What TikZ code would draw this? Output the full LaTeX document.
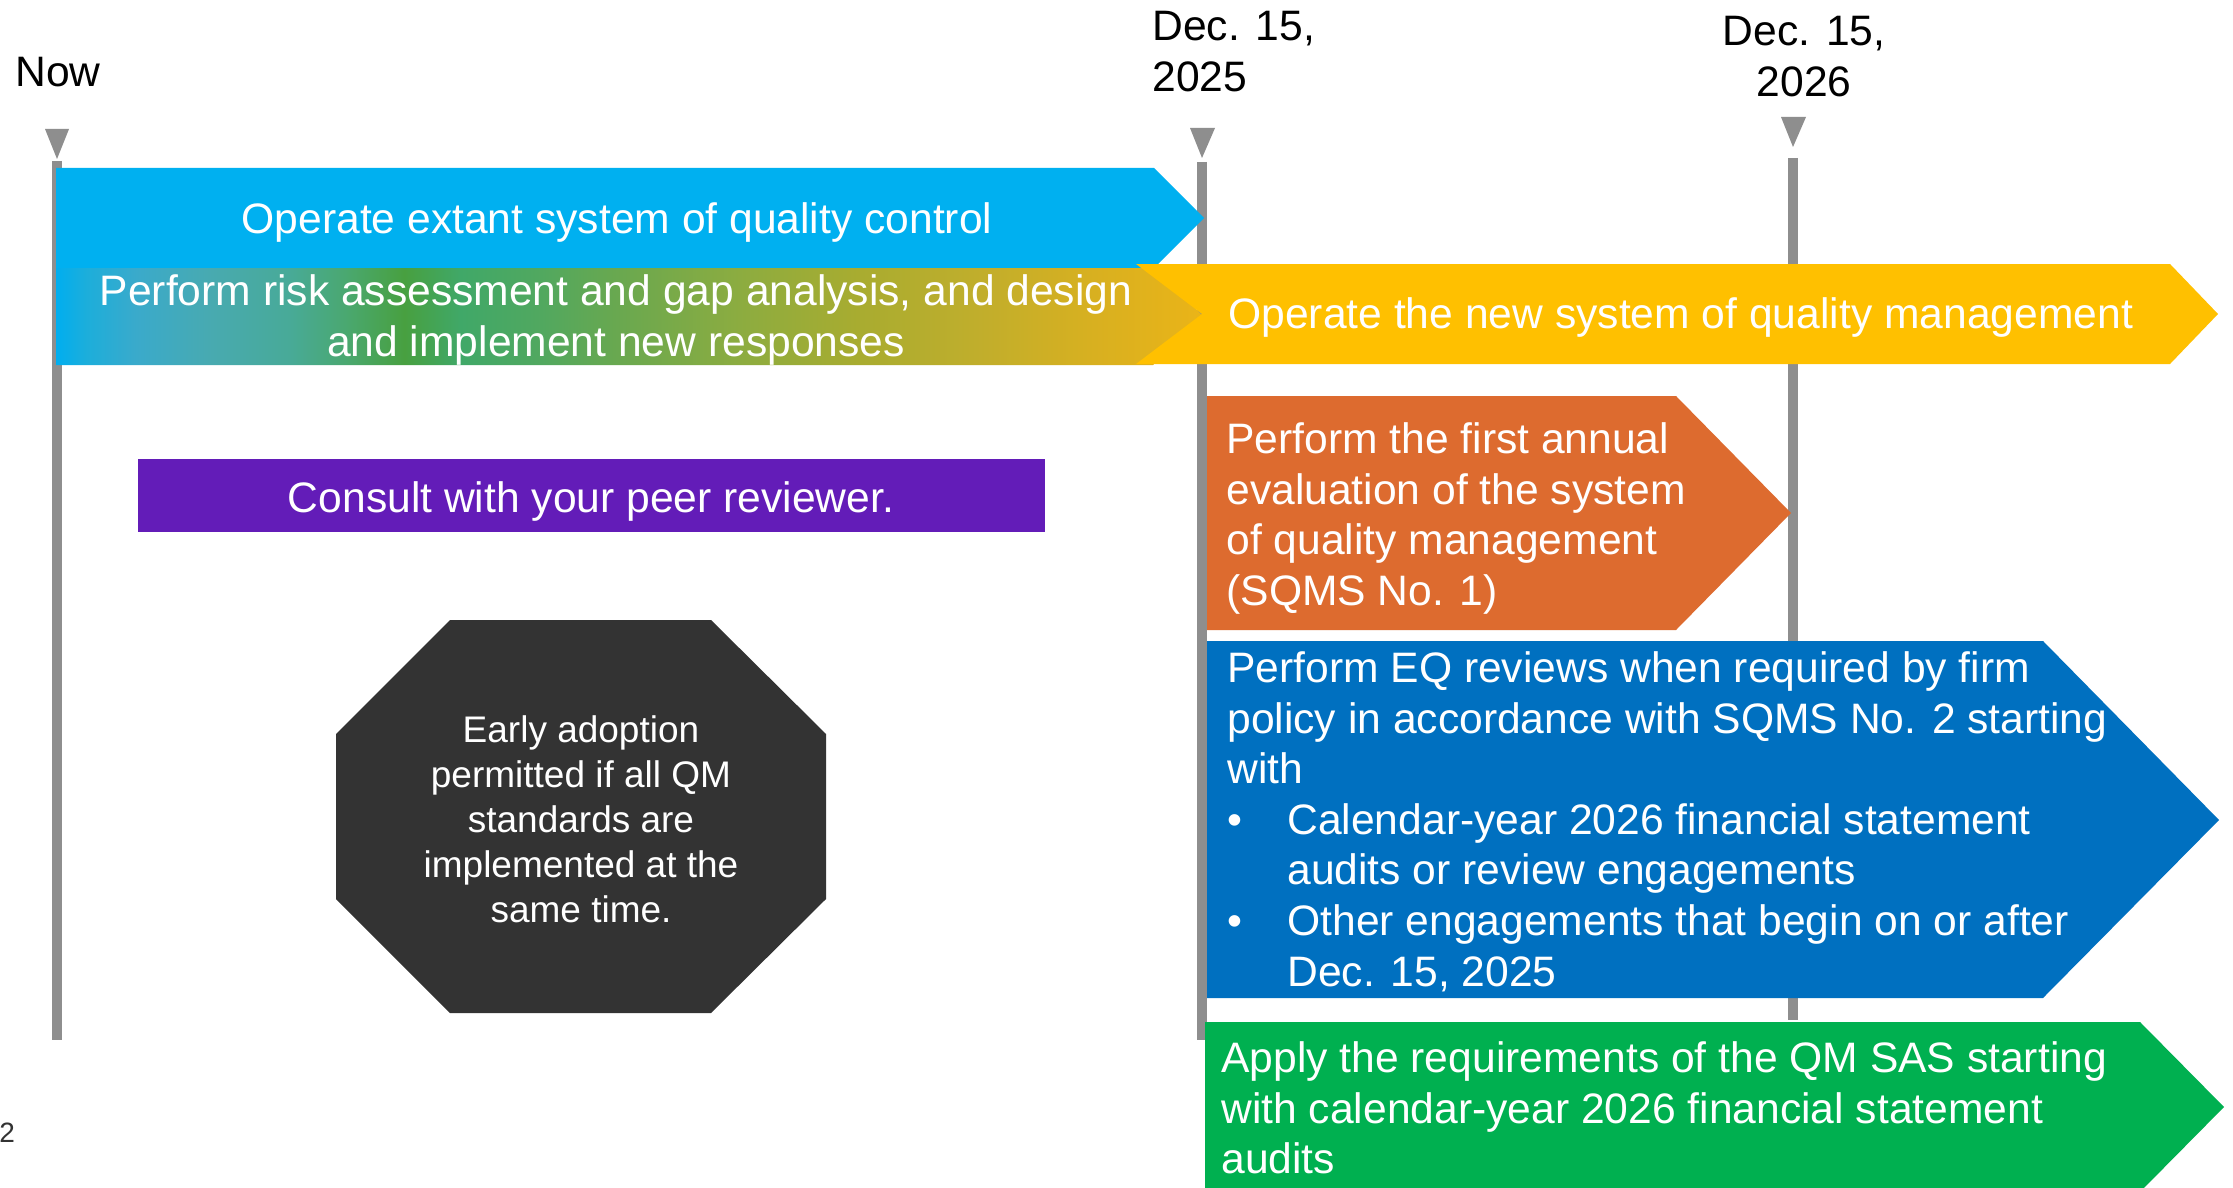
\documentclass[tikz,border=0pt]{standalone}
\usepackage{fontspec}
\setmainfont{Liberation Sans}
\definecolor{lineGray}{HTML}{8E8E8E}
\definecolor{cyanArrow}{HTML}{00B0F0}
\definecolor{yellowArrow}{HTML}{FFC000}
\definecolor{orangeArrow}{HTML}{DD6B2F}
\definecolor{blueArrow}{HTML}{0070C0}
\definecolor{greenArrow}{HTML}{00B050}
\definecolor{purpleBox}{HTML}{631CB8}
\definecolor{octGray}{HTML}{333333}
\definecolor{pageGray}{HTML}{333333}
\definecolor{gA}{HTML}{00AEEF}
\definecolor{gB}{HTML}{1CAEDB}
\definecolor{gC}{HTML}{3AAACB}
\definecolor{gD}{HTML}{48AAB0}
\definecolor{gE}{HTML}{48AA98}
\definecolor{gF}{HTML}{4AA870}
\definecolor{gG}{HTML}{48A040}
\definecolor{gH}{HTML}{40A868}
\definecolor{gI}{HTML}{50A860}
\definecolor{gJ}{HTML}{68A850}
\definecolor{gK}{HTML}{8CAC40}
\definecolor{gL}{HTML}{A8AC30}
\definecolor{gM}{HTML}{C0AE2C}
\definecolor{gN}{HTML}{D8B020}
\definecolor{gO}{HTML}{EAB418}
\pgfdeclarehorizontalshading{riskshade}{100bp}{color(0bp)=(gA); color(25bp)=(gA); color(26.3bp)=(gB); color(28.5bp)=(gC); color(31.8bp)=(gD); color(35.15bp)=(gE); color(37.65bp)=(gF); color(40.2bp)=(gG); color(42.65bp)=(gH); color(46bp)=(gI); color(49.35bp)=(gJ); color(54.8bp)=(gK); color(59.95bp)=(gL); color(65.15bp)=(gM); color(70.3bp)=(gN); color(75bp)=(gO); color(100bp)=(gO)}
\tikzset{
  bigtext/.style={font=\fontsize{21.3}{25.3}\selectfont, inner sep=0pt, text=white},
  datelabel/.style={font=\fontsize{21.3}{25.3}\selectfont, inner sep=0pt, text=black},
  octtext/.style={font=\fontsize{18.5}{22.5}\selectfont, inner sep=0pt, text=white, align=center},
  timeline/.style={draw=lineGray, line width=5pt},
  marker/.style={fill=lineGray},
}
\begin{document}
\begin{tikzpicture}[x=0.5pt, y=-0.5pt]
\useasboundingbox (0,0) rectangle (2233,1188);
\fill[white] (0,0) rectangle (2233,1188);

% time lines
\coordinate (nowTop) at (57,161);
\coordinate (nowBot) at (57,1040);
\coordinate (d25Top) at (1202,162);
\coordinate (d25Bot) at (1202,1040);
\coordinate (d26Top) at (1793,158);
\coordinate (d26Bot) at (1793,1020);
\draw[timeline] (nowTop) -- (nowBot);
\draw[timeline] (d25Top) -- (d25Bot);
\draw[timeline] (d26Top) -- (d26Bot);
\fill[marker] (45,129) -- (69,129) -- (57,159) -- cycle;
\fill[marker] (1190,128) -- (1215,128) -- (1202,158) -- cycle;
\fill[marker] (1781,117) -- (1806,117) -- (1793,147) -- cycle;

% arrows
\fill[cyanArrow] (56,168) -- (1154,168) -- (1204,218) -- (1154,268) -- (56,268) -- cycle;
\shade[shading=riskshade] (56,268) -- (1153,268) -- (1202,315) -- (1153,365) -- (56,365) -- cycle;
\fill[yellowArrow] (1136,264) -- (2170,264) -- (2218,314) -- (2170,364) -- (1136,364) -- (1202,314) -- cycle;
\fill[orangeArrow] (1207,396) -- (1676,396) -- (1791,513) -- (1676,630) -- (1207,630) -- cycle;
\fill[blueArrow] (1207,641) -- (2043,641) -- (2219,820) -- (2043,998) -- (1207,998) -- cycle;
\fill[greenArrow] (1205,1022) -- (2140,1022) -- (2224,1107) -- (2140,1192) -- (1205,1192) -- cycle;
\fill[purpleBox] (138,459) rectangle (1045,532);
\fill[octGray] (450,620) -- (711,620) -- (826,734) -- (826,899) -- (711,1013) -- (450,1013) -- (336,899) -- (336,734) -- cycle;

% labels
\node[datelabel, anchor=base west] (now) at (15,87) {Now};
\node[datelabel, anchor=north west, align=left] (dec25) at (1152,40-35.4) {\strut Dec. 15,\\2025};
\node[datelabel, anchor=north, align=center] (dec26) at (1804,45-35.4) {\strut Dec. 15,\\2026};

% texts
\node[bigtext, anchor=base] (extant) at (617,233) {Operate extant system of quality control};
\node[bigtext, anchor=north, align=center] (risk) at (616,305-35.4) {\strut Perform risk assessment and gap analysis, and design\\and implement new responses};
\node[bigtext, anchor=base west] (newsys) at (1228,328) {Operate the new system of quality management};
\node[bigtext, anchor=north west, align=left] (evaluation) at (1226,453-35.4) {\strut Perform the first annual\\evaluation of the system\\of quality management\\(SQMS No. 1)};
\node[bigtext, anchor=north west, align=left] (eqreviews) at (1227,682-35.4) {\strut Perform EQ reviews when required by firm\\policy in accordance with SQMS No. 2 starting\\with\\\makebox[30pt][l]{•}Calendar-year 2026 financial statement\\\hspace*{30pt}audits or review engagements\\\makebox[30pt][l]{•}Other engagements that begin on or after\\\hspace*{30pt}Dec. 15, 2025};
\node[bigtext, anchor=north west, align=left] (qmsas) at (1221,1072-35.4) {\strut Apply the requirements of the QM SAS starting\\with calendar-year 2026 financial statement\\audits};
\node[bigtext, anchor=base] (consult) at (591,512) {Consult with your peer reviewer.};
\node[octtext, anchor=north] (early) at (581,742-31.5) {\strut Early adoption\\permitted if all QM\\standards are\\implemented at the\\same time.};
\node[inner sep=0pt, anchor=base west, text=pageGray, font=\fontsize{14}{16}\selectfont] (page) at (-1,1142) {2};
\end{tikzpicture}
\end{document}
